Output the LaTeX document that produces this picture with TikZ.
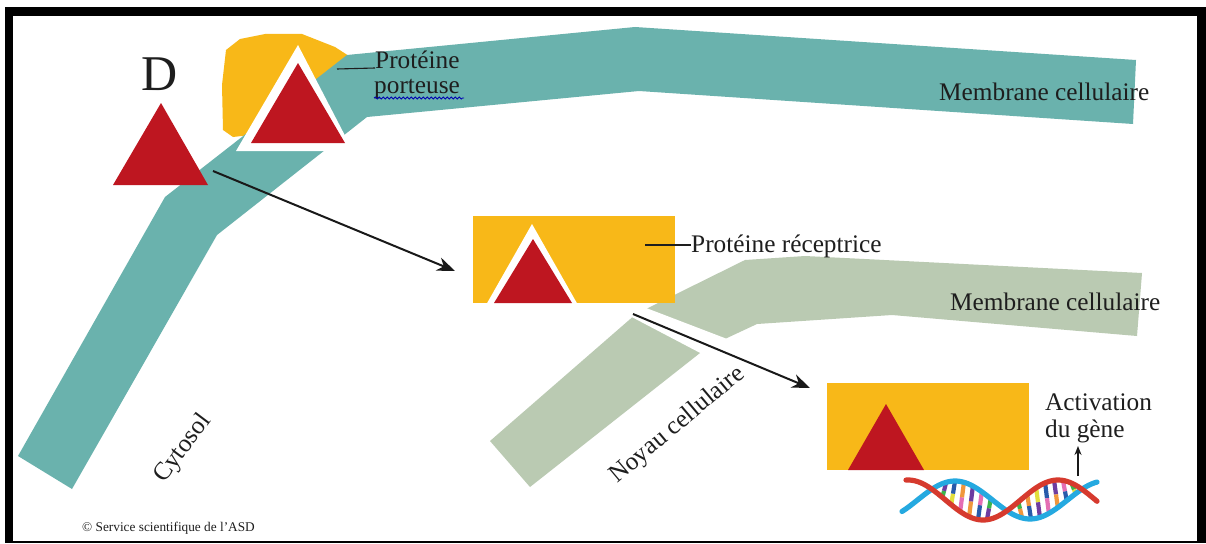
\documentclass[tikz,border=0pt]{standalone}
\usepackage{fontspec}
\setmainfont{Liberation Serif}
\usetikzlibrary{arrows.meta,decorations.pathmorphing}

\definecolor{membteal}{RGB}{106,178,173}
\definecolor{membsage}{RGB}{186,202,178}
\definecolor{protyellow}{RGB}{248,184,24}
\definecolor{ligandred}{RGB}{190,22,32}
\definecolor{inktext}{RGB}{30,30,30}
\definecolor{dnablue}{RGB}{37,169,224}
\definecolor{dnared}{RGB}{214,58,46}
\definecolor{rgreen}{RGB}{60,180,75}
\definecolor{ryellow}{RGB}{226,222,60}
\definecolor{rpink}{RGB}{228,110,180}
\definecolor{rpurple}{RGB}{110,60,160}
\definecolor{rblue}{RGB}{40,90,170}
\definecolor{rorange}{RGB}{240,150,60}

\begin{document}
\begin{tikzpicture}[x=1pt,y=-1pt,
  lbl/.style={inner sep=0pt, text=inktext, font=\fontsize{25.3}{29}\selectfont},
  leader/.style={draw=inktext, line width=1.1pt},
  flow/.style={draw=black!90, line width=2pt, -{Stealth[length=18pt,width=14pt]}},
  rung/.style={line width=4.2pt},
]
\useasboundingbox (0,0) rectangle (1206,543);

% frame
\fill[black] (5,7) rectangle (1206,543);
\fill[white] (13,16) rectangle (1197,541);

% carrier protein (yellow blob) behind the cell membrane
\fill[protyellow] (226,50) -- (240,39) -- (265,34) -- (302,34) -- (335,47) -- (352,58)
  -- (330,100) -- (250,135) -- (233,137) -- (223,130) -- (222,85) -- cycle;

% cell membrane
\fill[membteal] (18,456) -- (165,197) -- (347,55) -- (635,27) -- (1136,60) -- (1133,124)
  -- (639,91) -- (367,117) -- (217,235) -- (72,489) -- cycle;

% free hormone D
\fill[ligandred] (161,103) -- (113,185) -- (208,185) -- cycle;
\node[inner sep=0pt, anchor=base west, text=inktext, font=\fontsize{50}{50}\selectfont] (dlabel) at (141,90) {D};

% hormone bound to the carrier protein
\fill[white] (298,45) -- (236,151) -- (353,151) -- cycle;
\fill[ligandred] (298,63) -- (251,143) -- (345,143) -- cycle;

\node[lbl, anchor=base west] (porteuse1) at (375,68) {Protéine};
\node[lbl, anchor=base west] (porteuse2) at (374,93) {porteuse};
\draw[draw=blue!70!black, line width=0.8pt, decorate,
  decoration={snake, segment length=4pt, amplitude=1pt}]
  (porteuse2.base west) ++(0,5) -- ++(90,0);
\coordinate (porteuse-tick) at (337,69);
\draw[leader] (porteuse-tick) -- (porteuse1.base west);

\node[lbl, anchor=base west] (memb1) at (939,100) {Membrane cellulaire};

% nuclear envelope with its pore
\fill[membsage] (490,441) -- (636,314) -- (650,307) -- (745,260) -- (805,256) -- (1142,273)
  -- (1137,336) -- (892,315) -- (757,324) -- (727,338) -- (700,353) -- (530,487) -- cycle;
\fill[white] (641,306) -- (735,342) -- (706,356) -- (626,314) -- cycle;

% receptor protein with bound hormone
\node[fill=protyellow, inner sep=0pt, minimum width=202pt, minimum height=87pt, anchor=north west]
  (recep) at (473,216) {};
\fill[white] (532,224) -- (486,305) -- (578,305) -- cycle;
\fill[ligandred] (533,239) -- (494,303) -- (572,303) -- cycle;
\node[lbl, anchor=base west] (recep-lbl) at (691,252) {Protéine réceptrice};
\coordinate (recep-tick) at (645,245);
\draw[leader] (recep-tick) -- (recep-lbl.west |- recep-tick);

\node[lbl, anchor=base west] (memb2) at (950,310) {Membrane cellulaire};

% complex in the nucleus
\node[fill=protyellow, inner sep=0pt, minimum width=202pt, minimum height=87pt, anchor=north west]
  (complex) at (827,383) {};
\fill[ligandred] (886,404) -- (848,470) -- (924,470) -- cycle;

% DNA double helix (period 150, i.e. 2.4 degrees per unit)
\foreach \xx/\ca/\cb in {944/rgreen/rpurple, 953/ryellow/rblue, 962/rpink/rorange,
    971/rorange/rpurple, 980/rblue/rpink, 989/rpurple/rgreen,
    1020/rgreen/rorange, 1029/rorange/rblue, 1038/ryellow/rpurple, 1047/rblue/rpink,
    1056/rpurple/rorange, 1065/rpink/rblue, 1074/rgreen/ryellow} {
  \pgfmathsetmacro{\yr}{500-20*cos(2.4*(\xx-908))}
  \pgfmathsetmacro{\yb}{500-19*cos(2.4*(\xx-955))}
  \pgfmathsetmacro{\ym}{(\yr+\yb)/2}
  \draw[rung, \ca] (\xx-2,\yr) -- (\xx,\ym);
  \draw[rung, \cb] (\xx,\ym) -- (\xx+2,\yb);
}
\draw[dnablue, line width=5.2pt, line cap=round]
  plot[domain=902:1097, samples=90, smooth] (\x, {500-19*cos(2.4*(\x-955))});
\draw[dnared, line width=5.2pt, line cap=round]
  plot[domain=906:1097, samples=90, smooth] (\x, {500-20*cos(2.4*(\x-908))});

\node[lbl, anchor=base west] (act1) at (1045,410) {Activation};
\node[lbl, anchor=base west] (act2) at (1045,437) {du gène};
\coordinate (gene-top) at (1078,476);
\coordinate (act-foot) at (1078,446);
\draw[draw=black!90, line width=1.5pt, -{Stealth[length=9pt,width=7pt]}] (gene-top) -- (act-foot);

% transport arrows
\coordinate (d-start) at (213,171);
\coordinate (recep-in) at (455,271);
\draw[flow] (d-start) -- (recep-in);
\coordinate (pore-start) at (633,314);
\coordinate (complex-in) at (810,388);
\draw[flow] (pore-start) -- (complex-in);

% compartment labels
\node[lbl, anchor=base west, rotate=53] (cytosol) at (164,484) {Cytosol};
\node[lbl, anchor=base west, rotate=40] (noyau) at (617,484) {Noyau cellulaire};

\node[inner sep=0pt, anchor=base west, text=inktext, font=\fontsize{13.3}{15}\selectfont]
  (credit) at (82,531) {© Service scientifique de l'ASD};
\end{tikzpicture}
\end{document}
